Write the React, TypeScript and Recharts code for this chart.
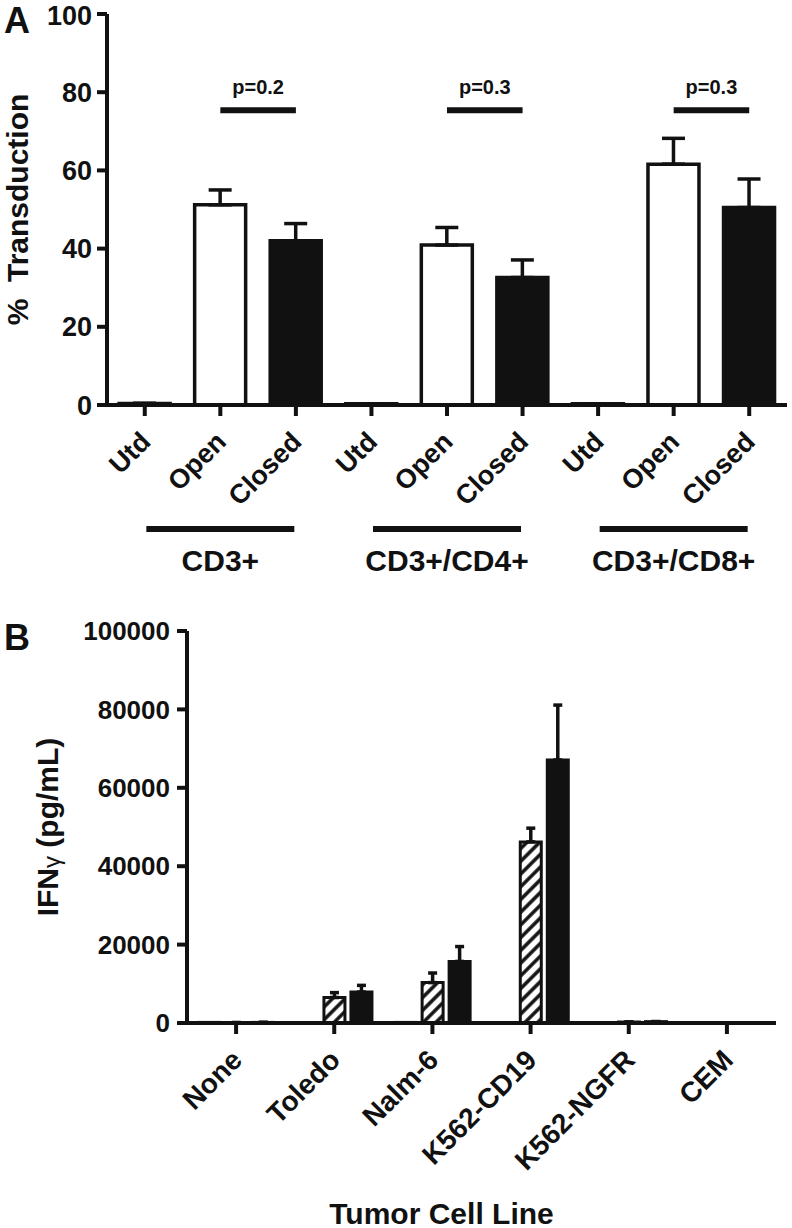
import React from "react";
import { BarChart, Bar, XAxis, YAxis, ErrorBar, Cell, ReferenceLine } from "recharts";

const FONT = '"Liberation Sans", Arial, Helvetica, sans-serif';
const INK = "#111";

// Panel A – % transduction per T-cell subset
const subsets = ["CD3+", "CD3+/CD4+", "CD3+/CD8+"];
const vectors = ["Utd", "Open", "Closed"];
const transductionMean = [0.4, 51.2, 42.0, 0.3, 40.9, 32.6, 0.3, 61.6, 50.5];
const transductionSem = [0, 3.8, 4.4, 0, 4.5, 4.5, 0, 6.6, 7.3];
const pValues = ["p=0.2", "p=0.3", "p=0.3"];
const pBarLevel = 75.4;
const transductionTicks = [0, 20, 40, 60, 80, 100];

// Panel B – IFNγ release per tumor cell line
const tumorLines = ["None", "Toledo", "Nalm-6", "K562-CD19", "K562-NGFR", "CEM"];
const ifnUtd = [150, 100, 150, 150, 100, 50];
const ifnOpen = [100, 6500, 10300, 46200, 250, 50];
const ifnOpenSem = [0, 1250, 2450, 3500, 0, 0];
const ifnClosed = [150, 7900, 15700, 67100, 350, 50];
const ifnClosedSem = [0, 1700, 3800, 14000, 0, 0];
const ifnTicks = [0, 20000, 40000, 60000, 80000, 100000];

const rowsA = subsets.flatMap((subset, gi) =>
  vectors.map((vector, vi) => ({
    id: `${subset}|${vector}`,
    subset,
    vector,
    mean: transductionMean[gi * 3 + vi],
    err: [0, transductionSem[gi * 3 + vi]],
  }))
);

const rowsB = tumorLines.map((line, i) => ({
  line,
  utd: ifnUtd[i],
  open: ifnOpen[i],
  openErr: [0, ifnOpenSem[i]],
  closed: ifnClosed[i],
  closedErr: [0, ifnClosedSem[i]],
}));

const textStyle = { fontFamily: FONT, fontWeight: 700, fill: INK };

function RotatedTick(props: any) {
  const { x, y, payload, fontSize } = props;
  const raw = String(payload.value);
  const label = raw.includes("|") ? raw.split("|")[1] : raw;
  return (
    <g transform={`translate(${x + 1}, ${y + 19}) rotate(-45)`}>
      <text x={0} y={0} textAnchor="end" dominantBaseline="central" fontSize={fontSize} {...textStyle}>
        {label}
      </text>
    </g>
  );
}

function SubsetTick(props: any) {
  const { x, y, payload } = props;
  return (
    <g>
      <line x1={x - 74} x2={x + 74} y1={y + 14} y2={y + 14} stroke={INK} strokeWidth={6} />
      <text x={x} y={y + 45} textAnchor="middle" dominantBaseline="central" fontSize={30} {...textStyle}>
        {payload.value}
      </text>
    </g>
  );
}

function PanelA() {
  return (
    <BarChart
      width={792}
      height={590}
      data={rowsA}
      margin={{ top: 14, right: 5, bottom: 0, left: 0 }}
      barCategoryGap="16%"
    >
      <XAxis
        xAxisId="a"
        dataKey="id"
        height={110}
        interval={0}
        tickSize={11}
        axisLine={{ stroke: INK, strokeWidth: 4 }}
        tickLine={{ stroke: INK, strokeWidth: 4 }}
        tick={(p: any) => <RotatedTick {...p} fontSize={27} />}
      />
      <XAxis
        xAxisId="b"
        dataKey="subset"
        allowDuplicatedCategory={false}
        height={75}
        interval={0}
        axisLine={false}
        tickLine={false}
        tickSize={0}
        tickMargin={0}
        tick={(p: any) => <SubsetTick {...p} />}
      />
      <YAxis
        domain={[0, 100]}
        ticks={transductionTicks}
        width={107}
        tickSize={10}
        tickMargin={5}
        axisLine={{ stroke: INK, strokeWidth: 4 }}
        tickLine={{ stroke: INK, strokeWidth: 4 }}
        tick={{ fontSize: 27, ...textStyle }}
        label={{
          content: (p: any) => {
            const vb = p.viewBox;
            const cx = vb.x + 17;
            const cy = vb.y + vb.height / 2;
            return (
              <text
                x={cx}
                y={cy}
                transform={`rotate(-90 ${cx} ${cy})`}
                textAnchor="middle"
                dominantBaseline="central"
                fontSize={30}
                {...textStyle}
              >
                {"%\u00a0 Transduction"}
              </text>
            );
          },
        }}
      />
      <Bar xAxisId="a" dataKey="mean" stroke={INK} strokeWidth={3.5} isAnimationActive={false}>
        {rowsA.map((r) => (
          <Cell key={r.id} fill={r.vector === "Closed" ? INK : "#fff"} />
        ))}
        <ErrorBar dataKey="err" width={11.5} stroke={INK} strokeWidth={3.5} />
      </Bar>
      {subsets.map((s, i) => (
        <ReferenceLine
          key={s}
          xAxisId="a"
          segment={[
            { x: `${s}|Open`, y: pBarLevel },
            { x: `${s}|Closed`, y: pBarLevel },
          ]}
          stroke={INK}
          strokeWidth={6}
          label={{ value: pValues[i], position: "top", offset: 16, fontSize: 20, ...textStyle }}
        />
      ))}
    </BarChart>
  );
}

function PanelB() {
  return (
    <BarChart
      width={792}
      height={638}
      data={rowsB}
      margin={{ top: 41, right: 16, bottom: 0, left: 0 }}
      barCategoryGap="12%"
      barGap={6}
    >
      <XAxis
        dataKey="line"
        height={205}
        interval={0}
        tickSize={11}
        axisLine={{ stroke: INK, strokeWidth: 4 }}
        tickLine={{ stroke: INK, strokeWidth: 4 }}
        tick={(p: any) => <RotatedTick {...p} fontSize={28} />}
        label={{
          content: (p: any) => {
            const vb = p.viewBox;
            return (
              <text
                x={vb.x + vb.width / 2 - 40}
                y={vb.y + vb.height - 15}
                textAnchor="middle"
                dominantBaseline="central"
                fontSize={30}
                {...textStyle}
              >
                Tumor Cell Line
              </text>
            );
          },
        }}
      />
      <YAxis
        domain={[0, 100000]}
        ticks={ifnTicks}
        width={187}
        tickSize={10}
        tickMargin={7}
        axisLine={{ stroke: INK, strokeWidth: 4 }}
        tickLine={{ stroke: INK, strokeWidth: 4 }}
        tick={{ fontSize: 26, ...textStyle }}
        label={{
          content: (p: any) => {
            const vb = p.viewBox;
            const cx = vb.x + 47;
            const cy = vb.y + vb.height / 2;
            return (
              <text
                x={cx}
                y={cy}
                transform={`rotate(-90 ${cx} ${cy})`}
                textAnchor="middle"
                dominantBaseline="central"
                fontSize={30}
                {...textStyle}
              >
                IFN<tspan fontSize={24} fontWeight={400} dy={4}>γ</tspan>
                <tspan dy={-4}> (pg/mL)</tspan>
              </text>
            );
          },
        }}
      />
      <Bar dataKey="utd" fill="#fff" stroke={INK} strokeWidth={3} isAnimationActive={false} />
      <Bar dataKey="open" fill="url(#hatch)" stroke={INK} strokeWidth={3} isAnimationActive={false}>
        <ErrorBar dataKey="openErr" width={4.5} stroke={INK} strokeWidth={3.5} />
      </Bar>
      <Bar dataKey="closed" fill={INK} stroke={INK} strokeWidth={3} isAnimationActive={false}>
        <ErrorBar dataKey="closedErr" width={4.5} stroke={INK} strokeWidth={3.5} />
      </Bar>
    </BarChart>
  );
}

export default function App() {
  return (
    <div style={{ position: "absolute", left: 0, top: 0, width: 792, height: 1228, background: "#fff" }}>
      <svg width={792} height={1228} style={{ position: "absolute", left: 0, top: 0 }}>
        <defs>
          <pattern id="hatch" patternUnits="userSpaceOnUse" width={9} height={9} patternTransform="rotate(45)">
            <rect width={9} height={9} fill="#fff" />
            <line x1={2} y1={0} x2={2} y2={9} stroke={INK} strokeWidth={3.5} />
          </pattern>
        </defs>
        <text x={4} y={33} fontSize={36} {...textStyle}>A</text>
        <text x={4} y={650} fontSize={36} {...textStyle}>B</text>
      </svg>
      <div style={{ position: "absolute", left: 0, top: 0 }}>
        <PanelA />
      </div>
      <div style={{ position: "absolute", left: 0, top: 590 }}>
        <PanelB />
      </div>
    </div>
  );
}
